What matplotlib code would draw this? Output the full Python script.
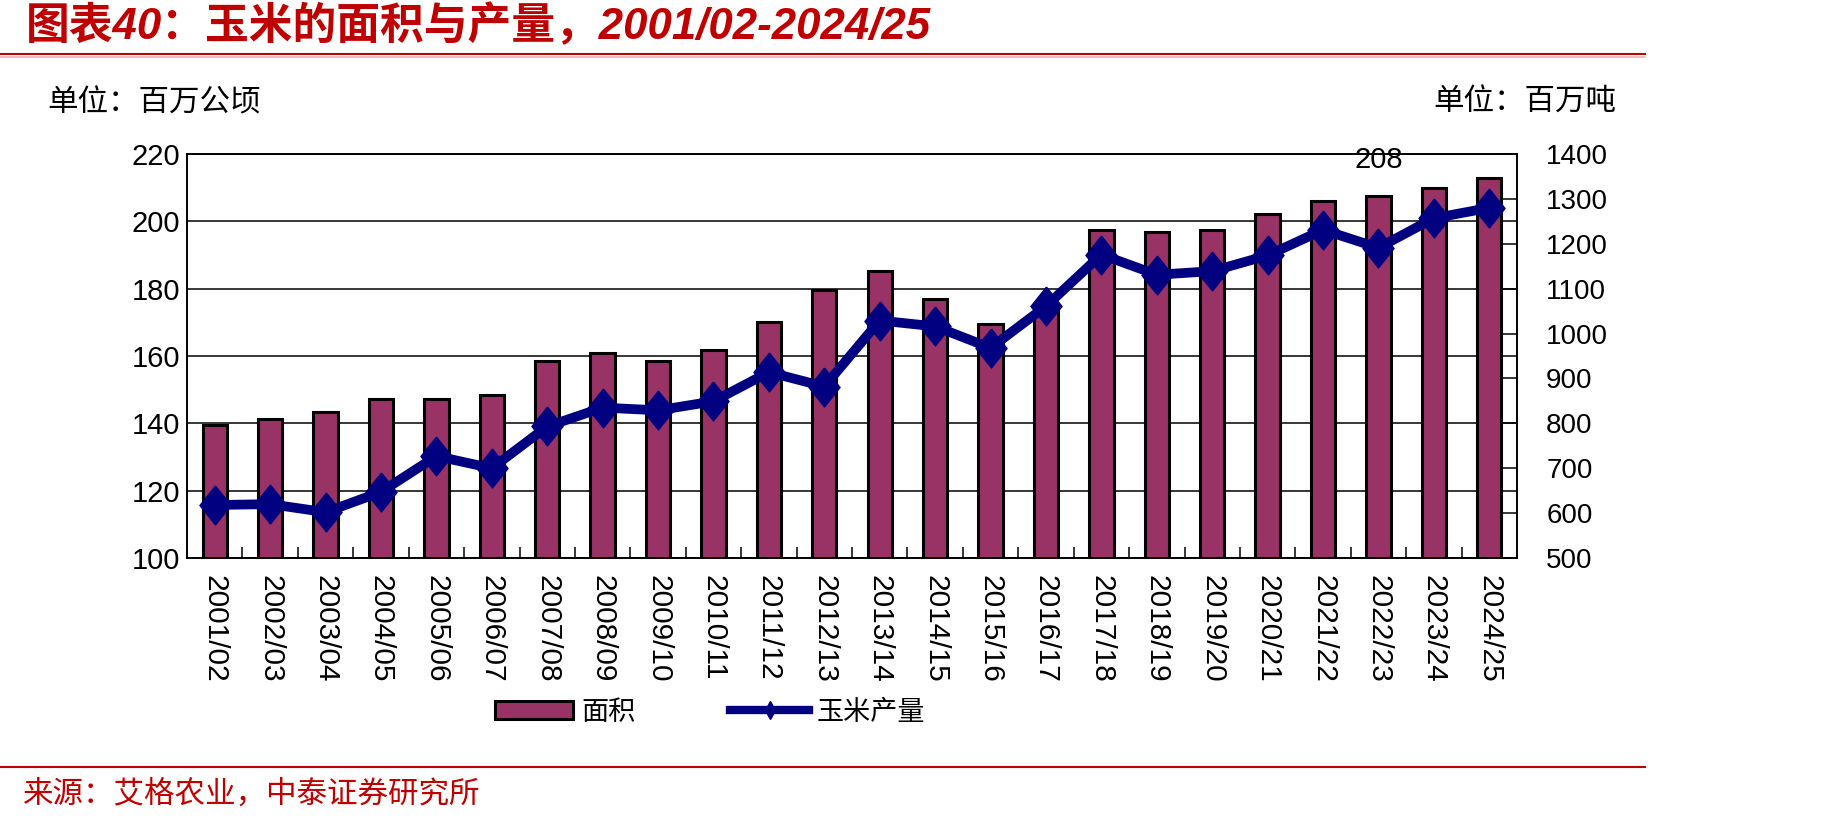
import matplotlib

matplotlib.use("Agg")
import matplotlib.pyplot as plt  # noqa: E402
import numpy as np  # noqa: E402
from matplotlib.lines import Line2D  # noqa: E402

plt.rcParams["font.family"] = ["Liberation Sans", "Noto Sans CJK SC"]

# dane
seasons = [
    "2001/02", "2002/03", "2003/04", "2004/05", "2005/06", "2006/07",
    "2007/08", "2008/09", "2009/10", "2010/11", "2011/12", "2012/13",
    "2013/14", "2014/15", "2015/16", "2016/17", "2017/18", "2018/19",
    "2019/20", "2020/21", "2021/22", "2022/23", "2023/24", "2024/25",
]
area = [
    139.4, 141.4, 143.4, 147.3, 147.3, 148.4, 158.6, 160.8, 158.6, 161.8,
    170.2, 179.5, 185.2, 177.0, 169.5, 174.0, 197.5, 196.8, 197.5, 202.3,
    206.1, 207.6, 209.9, 212.8,
]
production = [
    618, 620, 602, 647, 727, 700, 793, 835, 829, 849, 914, 882,
    1029, 1016, 968, 1061, 1176, 1131, 1139, 1174, 1231, 1191, 1257, 1280,
]

RED = "#C00000"
BAR = "#993366"
NAVY = "#000080"
W, H = 1830, 819

fig = plt.figure(figsize=(W / 100, H / 100), dpi=100)
ax = fig.add_axes([187 / W, 1 - 558 / H, 1330 / W, 404 / H])
ax2 = ax.twinx()

x = np.arange(len(seasons))
bars = ax.bar(x, area, width=0.44, color=BAR, edgecolor="black",
              linewidth=2.2, zorder=2)
ax.set_xlim(-0.5, len(seasons) - 0.5)
ax.set_ylim(100, 220)
ax.set_yticks(range(100, 221, 20))
ax.yaxis.grid(True, color="black", linewidth=1.1)
ax.set_axisbelow(True)
ax.tick_params(axis="y", length=0, pad=5, labelsize=21)

ax.set_xticks(x)
ax.set_xticklabels(seasons, rotation=270, fontsize=21.5)
ax.tick_params(axis="x", which="major", length=0, pad=12)
ax.set_xticks(np.arange(0.5, len(seasons) - 1), minor=True)
ax.tick_params(axis="x", which="minor", direction="in", length=8, width=1.1)

for sp in ax.spines.values():
    sp.set_linewidth(1.2)
for sp in ax2.spines.values():
    sp.set_linewidth(1.2)

# romb wyższy niż szerszy, jak w Excelu
diamond = [(0, 1.25), (1, 0), (0, -1.25), (-1, 0), (0, 1.25)]
ax2.plot(x, production, color=NAVY, linewidth=7, marker=diamond,
         markersize=28, zorder=3)
ax2.set_ylim(500, 1400)
ax2.set_yticks(range(500, 1401, 100))
ax2.tick_params(axis="y", direction="in", length=10, width=1.1, pad=21,
                labelsize=20)

ax.text(21, 218.2, f"{area[21]:.0f}", ha="center", va="center", fontsize=21)

# legenda
line_handle = Line2D([], [], color=NAVY, linewidth=6, marker="d",
                     markersize=9)
fig.legend([bars, line_handle], ["面积", "玉米产量"], loc="center",
           bbox_to_anchor=(710 / W, 1 - 712 / H), ncol=2, frameon=False,
           handlelength=2.9, handleheight=0.67, handletextpad=0.3,
           columnspacing=3.5, prop={"family": ["Noto Sans CJK SC"], "size": 19.5})

# nagłówek, jednostki, źródło
fig.text(26 / W, 1 - 27 / H, "图表40：玉米的面积与产量，2001/02-2024/25",
         fontsize=31.5, fontweight="bold", style="italic", color=RED, va="center")
fig.add_artist(Line2D([0, 1645 / W], [1 - 54 / H] * 2, color=RED, linewidth=1.5))
fig.add_artist(Line2D([0, 1645 / W], [1 - 56.5 / H] * 2, color="#e8b4b4",
                      linewidth=1.2))
fig.text(47 / W, 1 - 103 / H, "单位：百万公顷", fontsize=22, va="center")
fig.text(1616 / W, 1 - 103 / H, "单位：百万吨", fontsize=22, va="center",
         ha="right")
fig.add_artist(Line2D([0, 1645 / W], [1 - 767 / H] * 2, color=RED, linewidth=1.5))
fig.text(23 / W, 1 - 795 / H, "来源：艾格农业，中泰证券研究所", fontsize=22,
         color=RED, va="center")

fig.savefig("out.png", dpi=100)
plt.close(fig)
